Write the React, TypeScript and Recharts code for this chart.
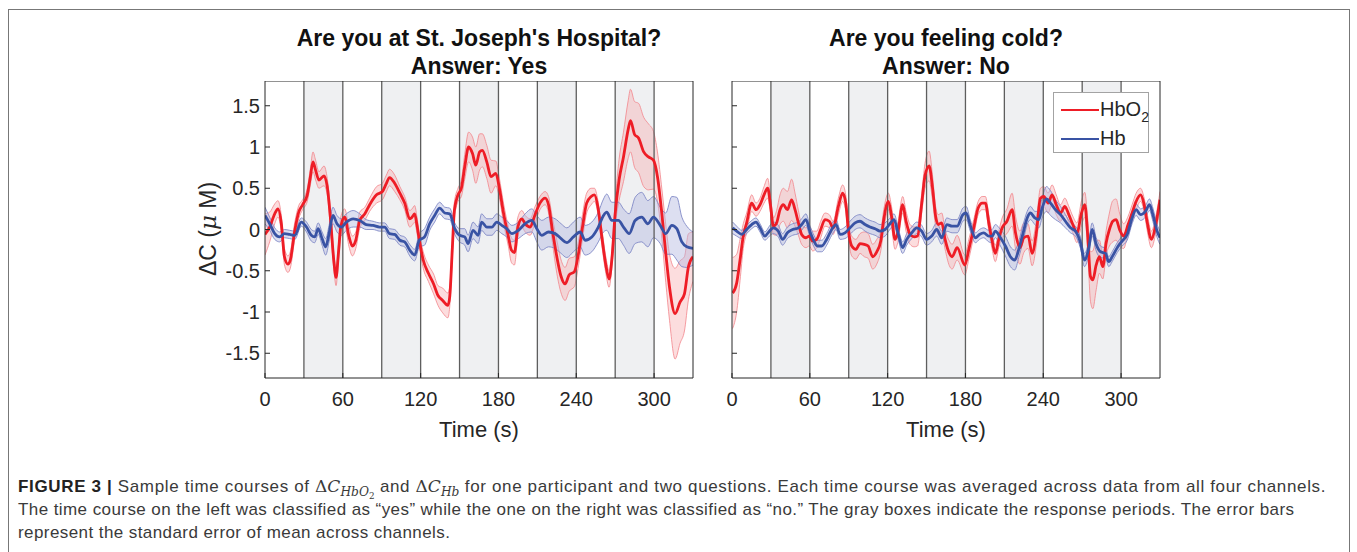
import React from 'react';
import { ComposedChart, Line, Area, XAxis, YAxis, ReferenceArea, ReferenceLine } from 'recharts';

const FONT = '"Liberation Sans", Arial, Helvetica, sans-serif';
const INK = '#262626';

const timeTicks = [0, 60, 120, 180, 240, 300];
const valueTicks = [-1.5, -1, -0.5, 0, 0.5, 1, 1.5];
const responseStarts = [30, 90, 150, 210, 270];
const responseEnds = [60, 120, 180, 240, 300];
const periodLines = [30, 60, 90, 120, 150, 180, 210, 240, 270, 300];

// left panel: "Are you at St. Joseph's Hospital?"
const yesHbO2T = [0, 3.6, 7.5, 10, 12.6, 15, 17.7, 19.5, 23, 26, 29, 32.6, 35, 37, 39, 41.6, 45.5, 48, 50.6, 53, 54.8, 56.6, 58.4, 61.4, 64.8, 67.4, 70, 73, 77, 80.7, 86, 90.5, 93.6, 96, 100, 104, 107.7, 111.6, 113.4, 115.4, 117, 119, 122, 126, 130, 133.4, 137, 141, 142.4, 144.5, 146, 148.8, 151.4, 154, 157, 160, 162.5, 165.5, 167.6, 171, 174.3, 178, 180.5, 184, 187.7, 190, 192.3, 195, 198, 200.6, 204.4, 208, 212, 216, 218.6, 221.6, 225, 228.3, 231.4, 234.5, 238.6, 241.7, 244.8, 248, 251.5, 254, 256.6, 259.7, 263, 265.3, 267.4, 270, 273, 276.4, 280, 281.8, 285, 288, 292, 295.7, 299.5, 302.6, 306, 309, 311.9, 316.2, 320, 323.4, 326.5, 330];
const yesHbO2 = [-0.06, 0.03, 0.19, 0.25, 0.07, -0.33, -0.42, -0.37, -0.01, 0.21, 0.3, 0.42, 0.64, 0.82, 0.72, 0.6, 0.65, 0.52, 0.11, -0.37, -0.58, -0.29, 0.03, 0.15, -0.09, -0.2, -0.13, 0.11, 0.19, 0.3, 0.42, 0.46, 0.56, 0.63, 0.56, 0.44, 0.32, 0.13, 0.15, 0.19, 0.07, -0.13, -0.37, -0.53, -0.66, -0.8, -0.86, -0.92, -0.82, -0.21, 0.23, 0.42, 0.5, 0.76, 1.0, 0.92, 0.78, 0.94, 0.96, 0.82, 0.64, 0.68, 0.52, 0.19, -0.09, -0.25, -0.28, 0.03, 0.13, 0.07, 0.03, 0.17, 0.32, 0.38, 0.3, -0.01, -0.33, -0.57, -0.66, -0.55, -0.51, -0.29, 0.03, 0.32, 0.4, 0.42, 0.28, -0.09, -0.45, -0.6, -0.37, 0.19, 0.6, 0.88, 1.21, 1.32, 1.15, 1.11, 0.94, 0.88, 0.84, 0.64, 0.19, -0.29, -0.7, -1.02, -0.88, -0.78, -0.45, -0.33];
const yesHbO2Se = [0.25, 0.18, 0.12, 0.1, 0.1, 0.1, 0.1, 0.1, 0.1, 0.08, 0.06, 0.08, 0.1, 0.12, 0.12, 0.1, 0.12, 0.1, 0.12, 0.1, 0.1, 0.1, 0.12, 0.1, 0.12, 0.12, 0.1, 0.1, 0.08, 0.08, 0.1, 0.1, 0.1, 0.1, 0.1, 0.08, 0.08, 0.1, 0.1, 0.1, 0.1, 0.08, 0.1, 0.1, 0.12, 0.12, 0.15, 0.15, 0.12, 0.1, 0.1, 0.08, 0.1, 0.15, 0.18, 0.2, 0.22, 0.22, 0.2, 0.2, 0.2, 0.15, 0.12, 0.12, 0.12, 0.15, 0.15, 0.12, 0.1, 0.1, 0.1, 0.1, 0.08, 0.08, 0.1, 0.15, 0.2, 0.2, 0.2, 0.2, 0.18, 0.15, 0.15, 0.12, 0.1, 0.08, 0.08, 0.1, 0.1, 0.1, 0.1, 0.15, 0.25, 0.3, 0.35, 0.38, 0.4, 0.42, 0.42, 0.4, 0.35, 0.3, 0.3, 0.35, 0.4, 0.55, 0.5, 0.45, 0.4, 0.3];

const yesHbT = [0, 3.6, 7.5, 11.3, 15, 19, 23, 28, 32, 35.7, 38.3, 41, 44, 46.8, 49.4, 52.4, 55.5, 58.9, 62.7, 68, 73, 78, 83.3, 88.4, 92.3, 96, 100, 104, 107.7, 111.6, 115.4, 119, 123, 127, 130.8, 134.7, 138.6, 142.4, 146.3, 150, 154, 156.6, 160.4, 164.3, 167, 171, 175, 178.7, 182.6, 186.4, 190.3, 195.4, 200.6, 205.7, 209.6, 213.4, 218.6, 223.7, 228.3, 232.7, 237.8, 243, 246.8, 252, 257, 261, 263.5, 267.4, 272.5, 276.4, 280.8, 285.4, 290.5, 295.2, 299.5, 304.7, 309, 313.7, 317.5, 321.4, 325.2, 330];
const yesHb = [0.17, 0.07, -0.05, -0.09, -0.05, -0.06, -0.07, 0.09, 0.03, -0.07, -0.09, 0.01, -0.11, -0.21, -0.05, 0.17, 0.07, 0.03, 0.09, 0.13, 0.11, 0.06, 0.05, 0.03, 0.03, -0.05, -0.06, -0.13, -0.15, -0.25, -0.31, -0.13, -0.09, 0.07, 0.17, 0.26, 0.2, 0.19, 0.01, -0.07, -0.09, -0.17, -0.01, -0.07, 0.09, 0.03, 0.03, 0.09, 0.05, 0.01, -0.05, -0.01, 0.07, 0.11, 0.01, -0.07, -0.03, -0.05, -0.11, -0.16, -0.09, -0.03, -0.13, -0.09, 0.03, 0.17, 0.21, 0.11, 0.11, 0.03, -0.05, 0.11, 0.15, 0.07, 0.15, 0.05, -0.05, 0.05, 0.01, -0.15, -0.21, -0.23];
const yesHbSe = [0.1, 0.08, 0.07, 0.06, 0.05, 0.05, 0.05, 0.05, 0.06, 0.07, 0.07, 0.07, 0.08, 0.1, 0.1, 0.1, 0.1, 0.1, 0.1, 0.1, 0.08, 0.06, 0.05, 0.05, 0.05, 0.06, 0.06, 0.06, 0.06, 0.07, 0.07, 0.08, 0.1, 0.08, 0.08, 0.07, 0.07, 0.07, 0.07, 0.08, 0.1, 0.1, 0.1, 0.1, 0.1, 0.1, 0.1, 0.1, 0.1, 0.1, 0.1, 0.1, 0.12, 0.14, 0.16, 0.18, 0.18, 0.18, 0.18, 0.18, 0.18, 0.18, 0.18, 0.18, 0.18, 0.2, 0.22, 0.22, 0.22, 0.22, 0.24, 0.28, 0.3, 0.28, 0.25, 0.22, 0.25, 0.35, 0.38, 0.3, 0.25, 0.2];

// right panel: "Are you feeling cold?"
const noHbO2T = [0.5, 3.6, 6.2, 8.7, 11.3, 15.2, 18.5, 21.6, 24.7, 27.5, 29.8, 31.9, 34.4, 37, 39.6, 42.7, 46, 48.6, 51.2, 53.7, 57, 59.6, 62.2, 65.3, 68.4, 71.7, 75, 78, 82, 85.3, 87.7, 89.7, 92.3, 95.6, 98.7, 102, 105, 108.5, 111.6, 114.7, 117, 120.6, 123, 125.7, 127.8, 131.6, 134.2, 137.3, 140.4, 143, 146.3, 148.8, 152, 154.5, 157, 159, 161.7, 164.3, 167.6, 169.7, 173.6, 179.5, 182.6, 186.4, 189.8, 192.9, 195.4, 198, 200.6, 203, 205.7, 208.3, 212, 216, 218.6, 222, 225, 228.3, 231.4, 234.8, 237.8, 240.4, 243.7, 246.8, 250, 253.3, 256.6, 259.7, 262.8, 266, 269.5, 272, 274.3, 276.4, 278.2, 280.8, 283.3, 285.9, 288.5, 291, 293.6, 296.2, 298.8, 302, 305.4, 308.5, 311.6, 315, 317.5, 320, 323.4, 326.5, 330];
const noHbO2 = [-0.77, -0.65, -0.37, -0.08, 0.08, 0.32, 0.24, 0.3, 0.42, 0.5, 0.28, 0.04, 0.08, 0.24, 0.3, 0.24, 0.36, 0.24, 0.08, -0.06, -0.1, -0.08, -0.14, -0.12, 0.0, 0.12, 0.1, 0.02, 0.28, 0.44, 0.32, 0.0, -0.2, -0.24, -0.17, -0.18, -0.2, -0.33, -0.27, -0.14, 0.12, 0.34, 0.16, -0.12, -0.04, 0.3, 0.1, -0.06, -0.09, -0.08, 0.32, 0.65, 0.77, 0.52, 0.16, 0.06, 0.08, -0.12, -0.29, -0.33, -0.22, -0.43, -0.24, 0.02, 0.26, 0.32, 0.32, 0.08, -0.14, -0.29, -0.12, 0.02, 0.1, 0.24, -0.04, -0.22, -0.1, -0.08, -0.29, -0.02, 0.38, 0.4, 0.32, 0.42, 0.3, 0.2, 0.28, 0.18, 0.06, -0.04, 0.2, 0.3, -0.08, -0.57, -0.61, -0.43, -0.33, -0.45, -0.16, 0.0, 0.1, 0.12, 0.0, -0.08, 0.06, 0.2, 0.34, 0.42, 0.32, 0.1, -0.12, 0.04, 0.36];
const noHbO2Se = [0.43, 0.35, 0.25, 0.15, 0.12, 0.1, 0.08, 0.08, 0.1, 0.12, 0.1, 0.1, 0.15, 0.18, 0.2, 0.22, 0.25, 0.2, 0.15, 0.12, 0.12, 0.12, 0.12, 0.1, 0.1, 0.08, 0.08, 0.08, 0.1, 0.1, 0.1, 0.1, 0.12, 0.12, 0.12, 0.15, 0.15, 0.15, 0.15, 0.12, 0.12, 0.1, 0.12, 0.12, 0.12, 0.1, 0.12, 0.12, 0.12, 0.12, 0.12, 0.15, 0.18, 0.15, 0.12, 0.12, 0.12, 0.12, 0.15, 0.15, 0.15, 0.12, 0.12, 0.1, 0.08, 0.08, 0.08, 0.1, 0.1, 0.1, 0.1, 0.12, 0.15, 0.2, 0.2, 0.2, 0.18, 0.15, 0.15, 0.15, 0.12, 0.12, 0.12, 0.12, 0.12, 0.1, 0.1, 0.1, 0.1, 0.12, 0.15, 0.15, 0.2, 0.3, 0.35, 0.3, 0.2, 0.15, 0.15, 0.2, 0.25, 0.25, 0.2, 0.15, 0.1, 0.1, 0.1, 0.08, 0.08, 0.1, 0.1, 0.1, 0.1];

const noHbT = [0.5, 3.6, 7.5, 11.3, 15.2, 18.5, 21.6, 25.4, 28.8, 31.9, 35.7, 39, 42.7, 46.8, 51.2, 53.7, 57, 60, 63.2, 65.8, 69.2, 73, 76.9, 80.2, 83.3, 87.1, 91, 94.9, 98.7, 102.6, 106.4, 110.3, 114.1, 118, 121.3, 124.9, 128.3, 131.6, 134.7, 138.6, 142.4, 146.3, 150, 154, 157.8, 161.7, 165.6, 169.7, 173.6, 178, 180.5, 183.9, 187.7, 190.8, 194.1, 198, 200.6, 203, 207, 210.8, 214.7, 218, 221.1, 224.5, 227.6, 230.1, 233.5, 236.6, 239.1, 242.5, 245.6, 249.4, 253.3, 257.1, 261, 264.8, 268.7, 271.8, 275.1, 277.7, 280.8, 284.1, 288, 290.5, 293.1, 297, 300.8, 304.7, 308.5, 311.6, 315, 318.8, 321.9, 324.5, 327.8, 330];
const noHb = [0.02, -0.02, -0.06, 0.0, 0.06, 0.09, 0.02, -0.08, -0.02, 0.02, -0.02, -0.12, -0.04, 0.0, 0.02, 0.06, 0.12, -0.02, -0.14, -0.2, -0.2, -0.12, 0.0, 0.06, -0.06, -0.04, 0.02, 0.08, 0.1, 0.06, 0.03, 0.01, -0.02, 0.0, 0.06, 0.12, -0.06, -0.22, -0.12, -0.04, 0.02, -0.02, -0.12, -0.08, 0.0, -0.1, 0.06, 0.04, 0.04, 0.18, 0.2, 0.04, -0.1, -0.06, -0.04, -0.08, -0.08, -0.02, -0.1, -0.2, -0.33, -0.37, -0.24, -0.04, 0.14, 0.2, 0.14, 0.12, 0.26, 0.37, 0.32, 0.24, 0.18, 0.1, 0.02, -0.02, -0.16, -0.37, -0.22, 0.0, -0.18, -0.27, -0.29, -0.39, -0.33, -0.22, -0.14, -0.06, 0.14, 0.24, 0.18, 0.22, 0.3, 0.18, -0.02, -0.1];
const noHbSe = [0.07, 0.06, 0.05, 0.05, 0.05, 0.05, 0.05, 0.05, 0.06, 0.07, 0.07, 0.07, 0.07, 0.07, 0.07, 0.07, 0.07, 0.07, 0.07, 0.07, 0.07, 0.07, 0.07, 0.06, 0.06, 0.07, 0.08, 0.08, 0.08, 0.08, 0.08, 0.08, 0.08, 0.08, 0.07, 0.07, 0.07, 0.07, 0.07, 0.07, 0.07, 0.07, 0.07, 0.07, 0.08, 0.08, 0.08, 0.08, 0.08, 0.08, 0.08, 0.07, 0.06, 0.06, 0.06, 0.07, 0.08, 0.08, 0.1, 0.12, 0.12, 0.12, 0.1, 0.1, 0.08, 0.08, 0.08, 0.1, 0.12, 0.15, 0.15, 0.12, 0.1, 0.08, 0.06, 0.06, 0.07, 0.08, 0.08, 0.08, 0.08, 0.07, 0.06, 0.06, 0.06, 0.06, 0.06, 0.07, 0.07, 0.07, 0.07, 0.07, 0.07, 0.08, 0.08, 0.08];

const RED = '#ee1d26';
const BLUE = '#3953a4';

type Row = { t: number; mean: number; band: [number, number] };

const rows = (t: number[], m: number[], se: number[]): Row[] =>
  t.map((x, i) => ({ t: x, mean: m[i], band: [m[i] - se[i], m[i] + se[i]] }));

interface PanelProps {
  hbo2: Row[];
  hb: Row[];
  axisWidth: number;
  showValues: boolean;
}

function Panel({ hbo2, hb, axisWidth, showValues }: PanelProps) {
  const tickStyle = { fill: INK, fontSize: 20, fontFamily: FONT };
  return (
    <ComposedChart width={axisWidth + 428 + 1} height={337} margin={{ top: 0, right: 0, bottom: 0, left: 0 }}>
      <XAxis
        type="number"
        dataKey="t"
        domain={[0, 330]}
        ticks={timeTicks}
        interval={0}
        allowDataOverflow
        height={40}
        tickSize={-5}
        tickMargin={19}
        tick={tickStyle}
        axisLine={{ stroke: INK }}
        tickLine={{ stroke: INK }}
      />
      <YAxis
        type="number"
        domain={[-1.8, 1.8]}
        ticks={valueTicks}
        interval={0}
        allowDataOverflow
        width={axisWidth}
        tickSize={-5}
        tickMargin={10}
        tick={tickStyle}
        tickFormatter={(v: number) => (showValues ? String(v) : '')}
        axisLine={{ stroke: INK }}
        tickLine={{ stroke: INK }}
      />
      <YAxis
        yAxisId="r"
        orientation="right"
        type="number"
        domain={[-1.8, 1.8]}
        ticks={valueTicks}
        interval={0}
        width={1}
        tickSize={-5}
        tickFormatter={() => ''}
        axisLine={{ stroke: INK }}
        tickLine={{ stroke: INK }}
      />
      {responseStarts.map((s, i) => (
        <ReferenceArea key={s} x1={s} x2={responseEnds[i]} fill="#eff0f2" fillOpacity={1} stroke="none" />
      ))}
      {periodLines.map((x) => (
        <ReferenceLine key={x} x={x} stroke="#5e5e5e" strokeWidth={1.3} />
      ))}
      <Area data={hbo2} dataKey="band" type="monotone" fill="#f7a9ad" fillOpacity={0.4} stroke="#f3868c" strokeWidth={1} strokeOpacity={0.8} isAnimationActive={false} />
      <Area data={hb} dataKey="band" type="monotone" fill="#b3b8df" fillOpacity={0.45} stroke="#8189c6" strokeWidth={1} strokeOpacity={0.9} isAnimationActive={false} />
      <Line data={hbo2} dataKey="mean" type="monotone" stroke={RED} strokeWidth={2.8} dot={false} isAnimationActive={false} />
      <Line data={hb} dataKey="mean" type="monotone" stroke={BLUE} strokeWidth={2.8} dot={false} isAnimationActive={false} />
      <ReferenceLine y={1.8} stroke={INK} strokeWidth={1} />
    </ComposedChart>
  );
}

const abs = (left: number, top: number, extra: React.CSSProperties = {}): React.CSSProperties => ({
  position: 'absolute',
  left,
  top,
  ...extra,
});

function Title({ left, q, a }: { left: number; q: string; a: string }) {
  return (
    <div style={abs(left - 40, 25, { width: 508, textAlign: 'center', fontWeight: 'bold', fontSize: 23, lineHeight: '27.5px', color: '#111' })}>
      <div>{q}</div>
      <div>{a}</div>
    </div>
  );
}

function TimeLabel({ left }: { left: number }) {
  return (
    <div style={abs(left, 417, { width: 428, textAlign: 'center', fontSize: 22, lineHeight: '26px', color: INK })}>Time (s)</div>
  );
}

const sub: React.CSSProperties = { fontSize: '0.72em', verticalAlign: '-0.3em', lineHeight: 0 };

function DeltaC({ name, two }: { name: string; two?: boolean }) {
  return (
    <span style={{ fontFamily: '"DejaVu Serif", serif', letterSpacing: 0 }}>
      Δ<i>C</i>
      <span style={sub}>
        <i>{name}</i>
        {two && <span style={sub}>2</span>}
      </span>
    </span>
  );
}

export default function App() {
  const yesO = rows(yesHbO2T, yesHbO2, yesHbO2Se);
  const yesR = rows(yesHbT, yesHb, yesHbSe);
  const noO = rows(noHbO2T, noHbO2, noHbO2Se);
  const noR = rows(noHbT, noHb, noHbSe);

  const caption: React.CSSProperties = { fontSize: 17, lineHeight: '23px', color: '#3a3a3a', whiteSpace: 'nowrap' };

  return (
    <div style={abs(0, 0, { width: 1357, height: 552, overflow: 'hidden', fontFamily: FONT, background: '#fff' })}>
      <div style={abs(8, 9, { width: 1342, height: 600, border: '1.5px solid #777', boxSizing: 'border-box' })} />

      <Title left={265} q="Are you at St. Joseph's Hospital?" a="Answer: Yes" />
      <Title left={732} q="Are you feeling cold?" a="Answer: No" />

      <div style={abs(180, 81)}>
        <Panel hbo2={yesO} hb={yesR} axisWidth={85} showValues />
      </div>
      <div style={abs(722, 81)}>
        <Panel hbo2={noO} hb={noR} axisWidth={10} showValues={false} />
      </div>

      <div
        style={abs(108, 215, {
          width: 200,
          height: 28,
          lineHeight: '28px',
          textAlign: 'center',
          fontSize: 23,
          color: INK,
          transform: 'rotate(-90deg)',
        })}
      >
        ΔC (<i style={{ fontFamily: '"DejaVu Serif", serif' }}>μ</i> M)
      </div>

      <TimeLabel left={265} />
      <TimeLabel left={732} />

      <div style={abs(1053, 92, { width: 96, height: 61, border: '1px solid #a3a3a3', background: '#fff', boxSizing: 'border-box' })}>
        <div style={abs(7, 16, { width: 38, height: 0, borderTop: `2.8px solid ${RED}` })} />
        <div style={abs(46, 4, { fontSize: 20, lineHeight: '24px', color: INK })}>
          HbO<span style={{ fontSize: 14, verticalAlign: '-6px', lineHeight: 0 }}>2</span>
        </div>
        <div style={abs(7, 45, { width: 38, height: 0, borderTop: `2.8px solid ${BLUE}` })} />
        <div style={abs(46, 33, { fontSize: 20, lineHeight: '24px', color: INK })}>Hb</div>
      </div>

      <div style={abs(18, 475, { ...caption, letterSpacing: '0.65px' })}>
        <b style={{ color: '#222' }}>FIGURE 3 |</b> Sample time courses of <DeltaC name="HbO" two /> and <DeltaC name="Hb" /> for one participant and two questions. Each time course was averaged across data from all four channels.
      </div>
      <div style={abs(18, 498, { ...caption, letterSpacing: '0.42px' })}>
        The time course on the left was classified as “yes” while the one on the right was classified as “no.” The gray boxes indicate the response periods. The error bars
      </div>
      <div style={abs(18, 521, { ...caption, letterSpacing: '0.42px' })}>represent the standard error of mean across channels.</div>
    </div>
  );
}
